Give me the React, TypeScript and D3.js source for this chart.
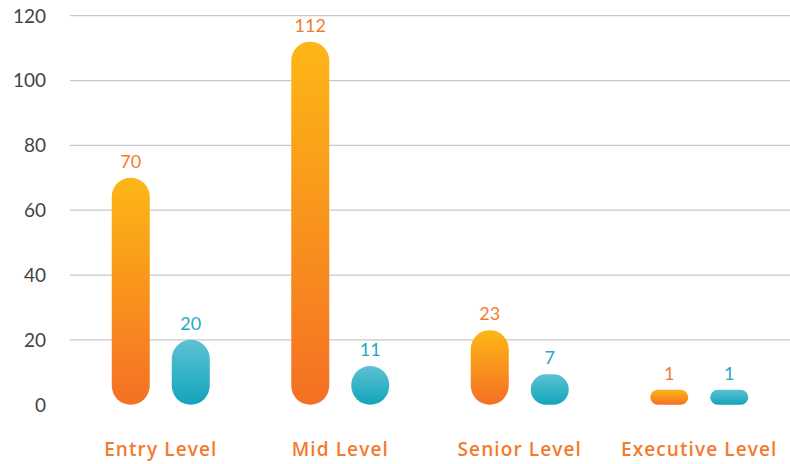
import React from "react";
import * as d3 from "d3";

const categories = ["Entry Level", "Mid Level", "Senior Level", "Executive Level"];
const seriesKeys = ["a", "b"];
const seriesA = [70, 112, 23, 1];
const seriesB = [20, 11, 7, 1];
const yTicks = [0, 20, 40, 60, 80, 100, 120];

const W = 790;
const H = 464;

export default function App() {
  const y = d3.scaleLinear().domain([0, 120]).range([404.7, 15.7]);
  const x0 = d3.scaleBand<string>().domain(categories).range([71, 789]).padding(0);
  const x1 = d3
    .scaleBand<string>()
    .domain(seriesKeys)
    .range([-49, 49])
    .paddingInner(22 / 60)
    .paddingOuter(0);
  const bw = x1.bandwidth();
  const series = [
    { key: "a", values: seriesA, grad: "gradA", label: "#F47B2E" },
    { key: "b", values: seriesB, grad: "gradB", label: "#27A8C0" },
  ];
  const minCap = 12.3;
  const dispH = (v: number) => {
    const h = y(0) - y(v);
    return h < bw ? h + minCap * Math.sqrt(1 - h / bw) : h;
  };

  return (
    <svg width={W} height={H} style={{ position: "absolute", left: 0, top: 0 }}>
      <defs>
        <linearGradient id="gradA" x1="0" y1="0" x2="0" y2="1">
          <stop offset="0%" stopColor="#FDB716" />
          <stop offset="100%" stopColor="#F47024" />
        </linearGradient>
        <linearGradient id="gradB" x1="0" y1="0" x2="0" y2="1">
          <stop offset="0%" stopColor="#5CC2D3" />
          <stop offset="100%" stopColor="#12A4BB" />
        </linearGradient>
      </defs>
      <rect width={W} height={H} fill="#fff" />
      {yTicks.map((t) => (
        <g key={t}>
          {t !== 0 && (
            <line x1={70} x2={W} y1={y(t)} y2={y(t)} stroke="#c9c9c9" strokeWidth={1.3} />
          )}
          <text
            x={46}
            y={y(t)}
            dy="0.36em"
            textAnchor="end"
            fontFamily="Lato, 'Noto Sans', sans-serif"
            fontSize={19}
            fill="#444"
          >
            {t}
          </text>
        </g>
      ))}
      {categories.map((c, i) => (
        <g key={c} transform={`translate(${x0(c)! + x0.bandwidth() / 2},0)`}>
          {series.map((s) => {
            const v = s.values[i];
            const h = dispH(v);
            const top = y(0) - h;
            const r = Math.min(bw, h) / 2;
            const bx = x1(s.key)!;
            return (
              <g key={s.key}>
                <rect x={bx} y={top} width={bw} height={h} rx={r} ry={r} fill={`url(#${s.grad})`} />
                <text
                  x={bx + bw / 2}
                  y={top - 10}
                  textAnchor="middle"
                  fontFamily="Lato, 'Noto Sans', sans-serif"
                  fontSize={18}
                  fill={s.label}
                >
                  {v}
                </text>
              </g>
            );
          })}
          <text
            x={0}
            y={456}
            textAnchor="middle"
            fontFamily="'Open Sans', sans-serif"
            fontWeight={600}
            fontSize={19}
            letterSpacing={1.1}
            fill="#F47B2E"
          >
            {c}
          </text>
        </g>
      ))}
    </svg>
  );
}
